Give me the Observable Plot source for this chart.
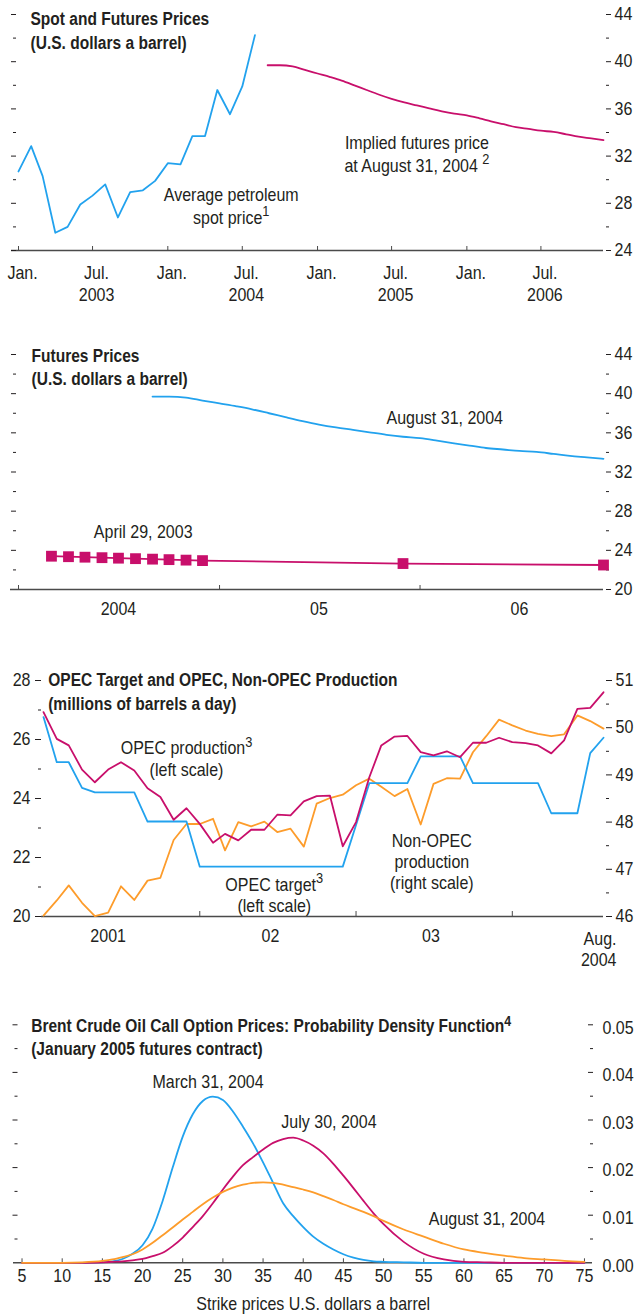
<!DOCTYPE html>
<html><head><meta charset="utf-8">
<script src="https://cdn.jsdelivr.net/npm/d3@7"></script>
<script src="https://cdn.jsdelivr.net/npm/@observablehq/plot@0.6"></script>
<style>
body{margin:0;background:#fff;}
#wrap{position:relative;width:634px;height:1316px;overflow:hidden;background:#fff;}
#wrap > div{position:absolute;left:0;}
</style></head><body><div id="wrap"></div>
<script>
// ---------------- DATA ----------------
// Panel 1: Spot and Futures Prices (monthly)
const spotStart = "2003-01";
const spotPrice = [30.7, 32.85, 30.3, 25.5, 26.0, 27.9, 28.65, 29.6, 26.8, 28.95, 29.1, 29.9,
                   31.4, 31.3, 33.7, 33.7, 37.6, 35.55, 37.9, 42.25];
const futStart = "2004-09";
const futAug31 = [39.7, 39.7, 39.6, 39.3, 39.0, 38.7, 38.4, 38.0, 37.6, 37.2, 36.85, 36.55,
                  36.3, 36.05, 35.8, 35.6, 35.45, 35.2, 34.95, 34.7, 34.45, 34.3, 34.15, 34.05,
                  33.85, 33.65, 33.5, 33.35];
const p1TickDates = ["2003-01","2003-07","2004-01","2004-07","2005-01","2005-07","2006-01","2006-07"];
const p1TickText  = ["Jan.","Jul.\n2003","Jan.","Jul.\n2004","Jan.","Jul.\n2005","Jan.","Jul.\n2006"];
const p1Notes = [
  {date: "2004-06-04", value: 29.6, text: "Average petroleum\nspot price{1}"},
  {date: "2005-09-01", value: 34.0, text: "Implied futures price\nat August 31, 2004 {2}"}
];

// Panel 2: Futures Prices
const apr29Dates = ["2004-03","2004-04","2004-05","2004-06","2004-07","2004-08","2004-09","2004-10","2004-11","2004-12","2005-12","2006-12"];
const apr29Price = [23.4, 23.35, 23.3, 23.25, 23.2, 23.15, 23.1, 23.05, 23.0, 22.95, 22.65, 22.5];
const p2TickDates = ["2004-01","2005-01","2006-01"];
const p2LabelDates = ["2004-07","2005-07","2006-07"];
const p2LabelText = ["2004","05","06"];
const p2Notes = [
  {date: "2006-02-15", value: 38.24, text: "August 31, 2004"},
  {date: "2004-08-15", value: 26.54, text: "April 29, 2003"}
];

// Panel 3: OPEC (monthly, Jan 2001 - Aug 2004)
const opecStart = "2001-01";
const opecProduction = [26.93, 26.02, 25.8, 24.98, 24.55, 24.98, 25.23, 24.95, 24.35, 24.05, 23.28, 23.67,
                        23.14, 22.5, 22.8, 22.58, 22.94, 22.94, 23.45, 23.43, 23.9, 24.08, 24.1, 22.38,
                        23.2, 24.72, 25.8, 26.1, 26.12, 25.57, 25.46, 25.6, 25.4, 25.89, 25.89, 26.06,
                        25.91, 25.88, 25.8, 25.53, 25.97, 27.04, 27.07, 27.6];
const opecTarget = [26.76, 25.23, 25.23, 24.36, 24.21, 24.21, 24.21, 24.21, 23.22, 23.22, 23.22, 23.22,
                    21.69, 21.69, 21.69, 21.69, 21.69, 21.69, 21.69, 21.69, 21.69, 21.69, 21.69, 21.69,
                    23.1, 24.52, 24.52, 24.52, 24.52, 25.43, 25.43, 25.43, 25.43, 24.52, 24.52, 24.52,
                    24.52, 24.52, 24.52, 23.5, 23.5, 23.5, 25.54, 26.06];
const nonOpec = [46.02, 46.34, 46.66, 46.29, 46.01, 46.08, 46.64, 46.35, 46.76, 46.82, 47.62, 47.96,
                 47.96, 48.07, 47.40, 48.0, 47.91, 48.01, 47.79, 47.86, 47.48, 48.39, 48.51, 48.58,
                 48.78, 48.92, 48.75, 48.55, 48.70, 47.95, 48.81, 48.93, 48.92, 49.48, 49.82, 50.17,
                 50.05, 49.94, 49.87, 49.82, 49.86, 50.26, 50.14, 49.98];
const p3TickDates = ["2002-01","2003-01","2004-01"];
const p3LabelDates = ["2001-06-01","2002-06-15","2003-06-25"];
const p3LabelText = ["2001","02","03"];
const p3EndLabel = {date: "2004-08", text: "Aug.\n2004"};
const leftTicks3 = [20, 22, 24, 26, 28];
const rightTicks3 = [46, 47, 48, 49, 50, 51];
const p3Notes = [
  {date: "2001-12-01", value: 26.0, text: "OPEC production{3}\n(left scale)"},
  {date: "2002-06-24", value: 21.38, text: "OPEC target{3}\n(left scale)"},
  {date: "2003-06-27", value: 22.87, text: "Non-OPEC\nproduction\n(right scale)"}
];

// Panel 4: Probability density
const strikes = [5, 10, 12.5, 15, 16.25, 17.5, 18.75, 20, 21.25, 22.5, 23.75, 25, 26.25, 27.5, 28.75, 30,
                 31.25, 32.5, 33.75, 35, 36.25, 37.5, 38.75, 40, 41.25, 42.5, 43.75, 45, 46.25, 47.5,
                 48.75, 50, 52.5, 55, 57.5, 60, 62.5, 65, 67.5, 70, 72.5, 75];
const pdfMar31 = [0, 0, 0, 0.0001, 0.0003, 0.0008, 0.0019, 0.0037, 0.0072, 0.0130, 0.0200, 0.0265,
                  0.0312, 0.0340, 0.0349, 0.0342, 0.0318, 0.0286, 0.0251, 0.0211, 0.0168, 0.0125,
                  0.0098, 0.0075, 0.0055, 0.0040, 0.0028, 0.0018, 0.0011, 0.0006, 0.0003, 0.0002,
                  0.0001, 0, 0, 0, 0, 0, 0, 0, 0, 0];
const pdfJul30 = [0, 0, 0, 0.0001, 0.0002, 0.0003, 0.0005, 0.0008, 0.0014, 0.0021, 0.0035, 0.0053,
                  0.0075, 0.0098, 0.0125, 0.0154, 0.0181, 0.0205, 0.0222, 0.0238, 0.0252, 0.0260,
                  0.0263, 0.0257, 0.0246, 0.0230, 0.0208, 0.0183, 0.0157, 0.0130, 0.0104, 0.0081,
                  0.0044, 0.0019, 0.0007, 0.0002, 0.0001, 0, 0, 0, 0, 0];
const pdfAug31 = [0, 0, 0.0001, 0.0004, 0.0007, 0.0012, 0.0018, 0.0028, 0.0042, 0.0058, 0.0074, 0.0091,
                  0.0107, 0.0123, 0.0137, 0.0149, 0.0158, 0.0164, 0.0168, 0.0169, 0.0168, 0.0164,
                  0.0159, 0.0154, 0.0148, 0.0140, 0.0132, 0.0123, 0.0115, 0.0107, 0.0098, 0.0088,
                  0.0070, 0.0055, 0.0040, 0.0028, 0.0021, 0.0015, 0.0010, 0.0007, 0.0004, 0.0002];
const strikeTicks = [5, 10, 15, 20, 25, 30, 35, 40, 45, 50, 55, 60, 65, 70, 75];
const p4Notes = [
  {x: 28.15, value: 0.0395, text: "March 31, 2004"},
  {x: 43.2, value: 0.0311, text: "July 30, 2004"},
  {x: 62.87, value: 0.01053, text: "August 31, 2004"}
];

// ---------------- STYLE ----------------
const W = 634;
const FONT = '"Liberation Sans", Arial, sans-serif';
const BLUE = "#22a2ee", MAG = "#c80f6b", ORG = "#fd9c2b", INK = "#231f20", AXIS = "#4a4a4a";
const FS = 18;
const SQ_REG = 0.89, SQ_BOLD = 0.84;   // horizontal condensation of the type
const style = {fontFamily: FONT, fontSize: FS + "px", color: INK, background: "none", overflow: "visible"};

const D = s => new Date(s.length === 7 ? s + "-01" : s);
const months = (start, n) => d3.utcMonth.range(D(start), d3.utcMonth.offset(D(start), n));
const seq = (a, b, s) => d3.range(a, b + s / 2, s);
const blank = () => "";

function supers(svg) {
  svg.querySelectorAll("text, tspan").forEach(el => {
    [...el.childNodes].forEach(n => {
      if (n.nodeType === 3 && /\{\d\}/.test(n.nodeValue)) {
        const parts = n.nodeValue.split(/\{(\d)\}/);
        const frag = document.createDocumentFragment();
        parts.forEach((p, i) => {
          if (i % 2 === 0) { if (p) frag.appendChild(document.createTextNode(p)); }
          else {
            const t = document.createElementNS("http://www.w3.org/2000/svg", "tspan");
            t.setAttribute("style", "font-size:0.8em;baseline-shift:7px");
            t.textContent = p;
            frag.appendChild(t);
          }
        });
        n.replaceWith(frag);
      }
    });
  });
}
function condense(svg) {
  svg.querySelectorAll("text").forEach(t => {
    const bold = !!t.closest('[font-weight="bold"]');
    const k = bold ? SQ_BOLD : SQ_REG;
    const tr = t.getAttribute("transform");
    if (tr) t.setAttribute("transform", tr + ` scale(${k},1)`);
    else {
      const x = +(t.getAttribute("x") || 0);
      t.setAttribute("transform", `translate(${x},0) scale(${k},1) translate(${-x},0)`);
    }
  });
}
const wrap = document.getElementById("wrap");
function place(svg, top) {
  const d = document.createElement("div");
  d.style.top = top + "px";
  d.appendChild(svg);
  wrap.appendChild(d);
  supers(svg);
  condense(svg);
}
const title = (txt, dx, dy, lh) => Plot.text([txt], {text: d => d, frameAnchor: "top-left", textAnchor: "start",
  lineAnchor: "top", dx, dy, lineHeight: lh, fontWeight: "bold", fontSize: FS + 0.5});

// ---------------- PANEL 1 ----------------
{
  const H = 320, mt = 14, mb = 70, fh = H - mt - mb;
  const spot = months(spotStart, spotPrice.length).map((d, i) => ({d, v: spotPrice[i]}));
  const fut = months(futStart, futAug31.length).map((d, i) => ({d, v: futAug31[i]}));
  const svg = Plot.plot({
    width: W, height: H, marginTop: mt, marginBottom: mb, marginLeft: 18, marginRight: 31, style,
    x: {type: "utc", domain: [D("2003-01"), D("2006-12")], axis: null},
    y: {domain: [24, 44], label: null},
    marks: [
      Plot.ruleX(p1TickDates.map(D), {insetTop: fh - 4, stroke: AXIS}),
      Plot.ruleY([24], {stroke: AXIS, strokeWidth: 1.4, insetLeft: -7}),
      Plot.axisY({anchor: "left", ticks: seq(24, 44, 4), tickSize: 5, dx: -2, tickFormat: blank, label: null}),
      Plot.axisY({anchor: "left", ticks: seq(26, 42, 4), tickSize: 3, dx: -2, tickFormat: blank, label: null}),
      Plot.axisY({anchor: "right", ticks: seq(24, 44, 4), tickSize: 5, dx: 2, tickPadding: 4, fontSize: FS, label: null}),
      Plot.axisY({anchor: "right", ticks: seq(26, 42, 4), tickSize: 3, dx: 2, tickFormat: blank, label: null}),
      Plot.line(spot, {x: "d", y: "v", stroke: BLUE, strokeWidth: 1.8}),
      Plot.line(fut, {x: "d", y: "v", stroke: MAG, strokeWidth: 1.8, curve: "monotone-x"}),
      Plot.text(p1TickDates.map((t, i) => ({d: D(t), s: p1TickText[i]})), {x: "d", text: "s", frameAnchor: "bottom",
        lineAnchor: "top", dx: 4, dy: 12.2, lineHeight: 1.26, fontSize: FS}),
      Plot.text(p1Notes, {x: d => D(d.date), y: "value", text: "text", lineAnchor: "top", lineHeight: 1.27, fontSize: FS}),
      title("Spot and Futures Prices\n(U.S. dollars a barrel)", 12, -6.1, 1.27)
    ]
  });
  place(svg, 0);
}

// ---------------- PANEL 2 ----------------
{
  const H = 320, mt = 34, mb = 51, fh = H - mt - mb;
  const fut = months(futStart, futAug31.length).map((d, i) => ({d, v: futAug31[i]}));
  const apr = apr29Dates.map((t, i) => ({d: D(t), v: apr29Price[i]}));
  const svg = Plot.plot({
    width: W, height: H, marginTop: mt, marginBottom: mb, marginLeft: 18, marginRight: 31, style,
    x: {type: "utc", domain: [D("2004-01"), D("2006-12")], axis: null},
    y: {domain: [20, 44], label: null},
    marks: [
      Plot.ruleX(p2TickDates.map(D), {insetTop: fh - 4, stroke: AXIS}),
      Plot.ruleY([20], {stroke: AXIS, strokeWidth: 1.4, insetLeft: -8}),
      Plot.axisY({anchor: "left", ticks: seq(24, 44, 4), tickSize: 5, dx: -2, tickFormat: blank, label: null}),
      Plot.axisY({anchor: "left", ticks: seq(22, 42, 4), tickSize: 3, dx: -2, tickFormat: blank, label: null}),
      Plot.axisY({anchor: "right", ticks: seq(20, 44, 4), tickSize: 5, dx: 2, tickPadding: 4, fontSize: FS, label: null}),
      Plot.axisY({anchor: "right", ticks: seq(22, 42, 4), tickSize: 3, dx: 2, tickFormat: blank, label: null}),
      Plot.line(fut, {x: "d", y: "v", stroke: BLUE, strokeWidth: 1.8, curve: "monotone-x"}),
      Plot.line(apr, {x: "d", y: "v", stroke: MAG, strokeWidth: 1.8}),
      Plot.dot(apr, {x: "d", y: "v", symbol: "square", r: 6.1, fill: MAG, stroke: "none"}),
      Plot.text(p2LabelDates.map((t, i) => ({d: D(t), s: p2LabelText[i]})), {x: "d", text: "s", frameAnchor: "bottom",
        lineAnchor: "top", dy: 13.2, fontSize: FS}),
      Plot.text(p2Notes, {x: d => D(d.date), y: "value", text: "text", lineAnchor: "top", fontSize: FS}),
      title("Futures Prices\n(U.S. dollars a barrel)", 13, -7.8, 1.2)
    ]
  });
  place(svg, 320);
}

// ---------------- PANEL 3 ----------------
{
  const H = 335, mt = 25, mb = 74, fh = H - mt - mb;
  const toLeft = r => 20 + (r - 46) * 8 / 5;
  const toRight = l => 46 + (l - 20) * 5 / 8;
  const ds = months(opecStart, opecProduction.length);
  const rows = ds.map((d, i) => ({d, prod: opecProduction[i], target: opecTarget[i], non: nonOpec[i]}));
  const svg = Plot.plot({
    width: W, height: H, marginTop: mt, marginBottom: mb, marginLeft: 43, marginRight: 31, style,
    x: {type: "utc", domain: [D("2001-01"), D("2004-08")], axis: null},
    y: {domain: [20, 28], label: null},
    marks: [
      Plot.ruleX(p3TickDates.map(D), {insetTop: fh - 5, stroke: AXIS}),
      Plot.ruleY([20], {stroke: AXIS, strokeWidth: 1.4, insetLeft: -2}),
      Plot.axisY({anchor: "left", ticks: leftTicks3, tickSize: 6, dx: -2, tickPadding: 5, fontSize: FS, label: null}),
      Plot.axisY({anchor: "left", ticks: seq(21, 27, 2), tickSize: 3, dx: -2, tickFormat: blank, label: null}),
      Plot.axisY({anchor: "right", ticks: rightTicks3.map(toLeft), tickSize: 6, dx: 2, tickPadding: 4, fontSize: FS,
        tickFormat: l => String(Math.round(toRight(l))), label: null}),
      Plot.axisY({anchor: "right", ticks: seq(46.5, 50.5, 1).map(toLeft), tickSize: 3, dx: 2, tickFormat: blank, label: null}),
      Plot.line(rows, {x: "d", y: d => toLeft(d.non), stroke: ORG, strokeWidth: 1.8}),
      Plot.line(rows, {x: "d", y: "target", stroke: BLUE, strokeWidth: 1.8}),
      Plot.line(rows, {x: "d", y: "prod", stroke: MAG, strokeWidth: 1.8}),
      Plot.text(p3LabelDates.map((t, i) => ({d: D(t), s: p3LabelText[i]})), {x: "d", text: "s", frameAnchor: "bottom",
        lineAnchor: "top", dy: 12.7, fontSize: FS}),
      Plot.text([p3EndLabel], {x: d => D(d.date), text: "text", frameAnchor: "bottom", textAnchor: "end",
        lineAnchor: "top", dx: 13, dy: 12.7, lineHeight: 1.2, fontSize: FS}),
      Plot.text(p3Notes, {x: d => D(d.date), y: "value", text: "text", lineAnchor: "top",
        lineHeight: 1.17, fontSize: FS}),
      title("OPEC Target and OPEC, Non-OPEC Production\n(millions of barrels a day)", 4.7, -10.8, 1.26)
    ]
  });
  place(svg, 655);
}

// ---------------- PANEL 4 ----------------
{
  const H = 316, mt = 24.3, mb = 53.7, fh = H - mt - mb;
  const series = [
    {vals: pdfMar31, color: BLUE},
    {vals: pdfJul30, color: MAG},
    {vals: pdfAug31, color: ORG}
  ];
  const svg = Plot.plot({
    width: W, height: H, marginTop: mt, marginBottom: mb, marginLeft: 17.5, marginRight: 42, style,
    x: {domain: [4.5, 76], axis: null},
    y: {domain: [0, 0.05], label: null},
    marks: [
      Plot.ruleX(strikeTicks, {insetTop: fh - 4, stroke: AXIS}),
      Plot.ruleY([0], {stroke: AXIS, strokeWidth: 1.4, insetLeft: -4.5}),
      Plot.axisY({anchor: "left", ticks: seq(0.01, 0.05, 0.01), tickSize: 5, tickFormat: blank, label: null}),
      Plot.axisY({anchor: "left", ticks: seq(0.005, 0.045, 0.01), tickSize: 3, tickFormat: blank, label: null}),
      Plot.axisY({anchor: "right", ticks: seq(0.01, 0.05, 0.01), tickSize: 5, dx: -5, tickFormat: blank, label: null}),
      Plot.axisY({anchor: "right", ticks: seq(0.005, 0.045, 0.01), tickSize: 3, dx: -3, tickFormat: blank, label: null}),
      Plot.axisY({anchor: "right", ticks: seq(0, 0.05, 0.01), tickSize: 0, tickPadding: 10, dy: 3, fontSize: FS,
        tickFormat: d3.format(".2f"), label: null}),
      ...series.map(s => Plot.line(strikes.map((k, i) => ({k, v: s.vals[i]})),
        {x: "k", y: "v", stroke: s.color, strokeWidth: 1.8, curve: "monotone-x"})),
      Plot.text(strikeTicks, {x: d => d, text: d => String(d), frameAnchor: "bottom", lineAnchor: "top", dy: 6.6, fontSize: FS}),
      Plot.text(["Strike prices U.S. dollars a barrel"], {text: d => d, frameAnchor: "bottom", lineAnchor: "top",
        dx: 8, dy: 34.9, fontSize: FS}),
      Plot.text(p4Notes, {x: "x", y: "value", text: "text", lineAnchor: "top", fontSize: FS}),
      title("Brent Crude Oil Call Option Prices: Probability Density Function{4}\n(January 2005 futures contract)", 13.2, -8.1, 1.2)
    ]
  });
  place(svg, 1000);
}
</script>
</body></html>
